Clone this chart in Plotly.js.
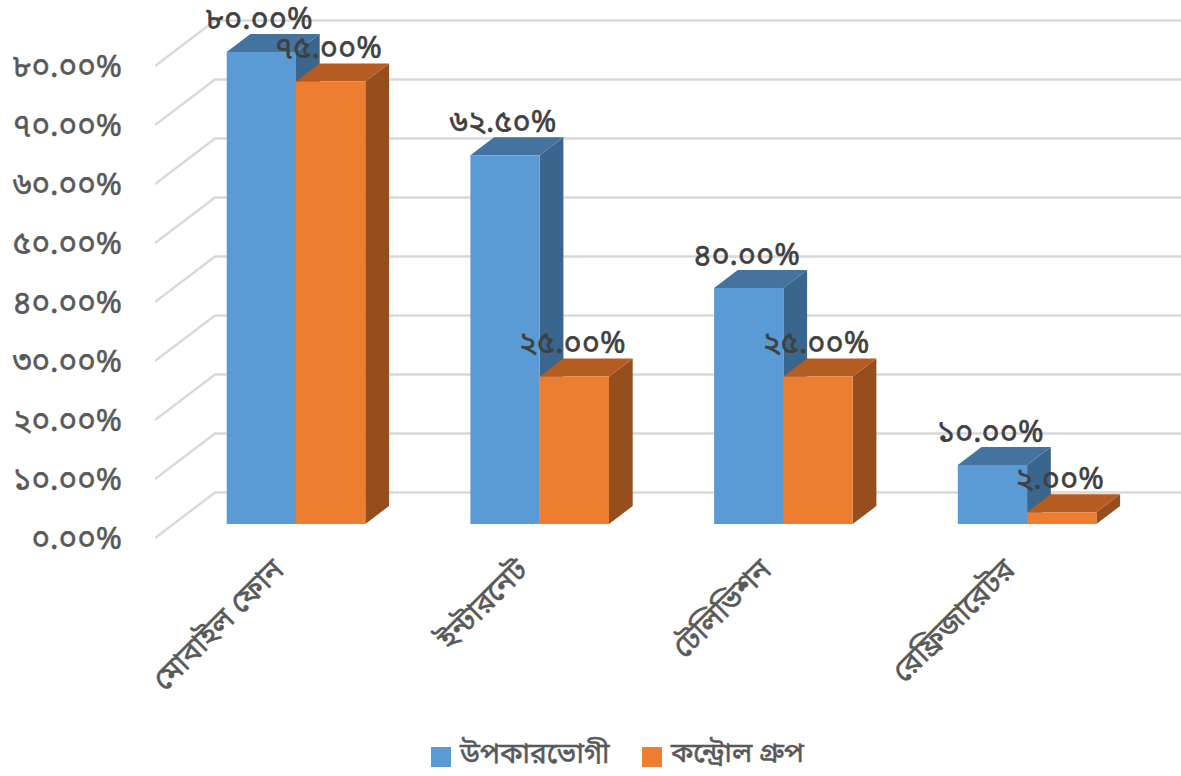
<!DOCTYPE html>
<html>
<head>
<meta charset="utf-8">
<script src="https://cdn.plot.ly/plotly-3.0.1.min.js"></script>
<style>
html,body{margin:0;padding:0;background:#fff}
#chart{width:1181px;height:776px}
/* Slightly heavier strokes for the Bengali text */
#chart .xtick text,#chart .ytick text,#chart .annotation text{stroke:#595959;stroke-width:.55px}
#chart .textpoint text{stroke:#404040;stroke-width:.6px}
</style>
</head>
<body>
<div id="chart"></div>
<script>
// Ownership of household devices: beneficiaries vs control group
const categories = ['মোবাইল ফোন', 'ইন্টারনেট', 'টেলিভিশন', 'রেফ্রিজারেটর'];
const beneficiaryName = 'উপকারভোগী';
const controlName = 'কন্ট্রোল গ্রুপ';
const beneficiaryValues = [80, 62.5, 40, 10];
const controlValues = [75, 25, 25, 2];
const beneficiaryLabels = ['৮০.০০%', '৬২.৫০%', '৪০.০০%', '১০.০০%'];
const controlLabels = ['৭৫.০০%', '২৫.০০%', '২৫.০০%', '২.০০%'];
const tickValues = [0, 10, 20, 30, 40, 50, 60, 70, 80];
const tickLabels = ['০.০০%', '১০.০০%', '২০.০০%', '৩০.০০%', '৪০.০০%', '৫০.০০%', '৬০.০০%', '৭০.০০%', '৮০.০০%'];

const FONT = 'Vrinda, "Noto Sans Bengali", "Lohit Bengali", "Noto Sans", "DejaVu Sans", sans-serif';

// Scale of the oblique projection, per pixel of the plot area
const pxPerPct = 5.9, pxPerCat = 243.7;
const plotLeft = 155, plotRight = 1181, plotBottom = 545, firstCat = 296, zeroPx = 538;
const yUnit = px => px / pxPerPct, xUnit = px => px / pxPerCat;

const barW = xUnit(69.3), depthX = xUnit(23.7), depthY = yUnit(18);
const floorFront = yUnit(14);
const wallX = xUnit(60), wallY = yUnit(45.5);

const xMin = xUnit(plotLeft - firstCat), xMax = xUnit(plotRight - firstCat);

const poly = (xs, ys, color, name) => ({
  type: 'scatter', mode: 'lines', x: xs, y: ys, fill: 'toself', fillcolor: color,
  line: {width: 0, color: color}, hoverinfo: 'skip', showlegend: false, name: name
});

// One cuboid: side face, top face, front face, painted back to front
function cuboid(x0, value, c) {
  const x1 = x0 + barW, b = floorFront, t = value + floorFront;
  return [
    poly([x1, x1 + depthX, x1 + depthX, x1, x1], [b, b + depthY, t + depthY, t, b], c.side),
    poly([x0, x1, x1 + depthX, x0 + depthX, x0], [t, t, t + depthY, t + depthY, t], c.top),
    poly([x0, x1, x1, x0, x0], [b, b, t, t, b], c.front)
  ];
}

const blue = {front: '#5B9BD5', top: '#44739F', side: '#3A658D'};
const orange = {front: '#ED7D31', top: '#B45C22', side: '#964F1C'};

// Wall and floor rules behind the bars
const gridX = [], gridY = [];
tickValues.forEach(v => {
  gridX.push(xMin, xMin + wallX, xMax, null);
  gridY.push(v, v + wallY, v + wallY, null);
});
const traces = [{
  type: 'scatter', mode: 'lines', x: gridX, y: gridY,
  line: {color: '#D9D9D9', width: 2.4}, hoverinfo: 'skip', showlegend: false
}];

categories.forEach((c, i) => {
  traces.push(...cuboid(i - barW, beneficiaryValues[i], blue));
  traces.push(...cuboid(i, controlValues[i], orange));
});

// Value labels above each bar
const labelLift = floorFront + yUnit(31);
const labelTrace = (offset, values, labels) => ({
  type: 'scatter', mode: 'text', cliponaxis: false,
  x: values.map((v, i) => i + offset - xUnit(2.2)), y: values.map(v => v + labelLift),
  text: labels, textposition: 'middle center',
  textfont: {family: FONT, size: 30.8, color: '#404040'},
  hoverinfo: 'skip', showlegend: false
});
traces.push(labelTrace(-barW / 2, beneficiaryValues, beneficiaryLabels));
traces.push(labelTrace(barW / 2, controlValues, controlLabels));

const paperX = px => (px - plotLeft) / (plotRight - plotLeft);
const paperY = px => (plotBottom - px) / plotBottom;

const layout = {
  width: 1181, height: 776, paper_bgcolor: '#fff', plot_bgcolor: '#fff',
  margin: {l: plotLeft, r: 0, t: 0, b: 776 - plotBottom},
  showlegend: false,
  xaxis: {
    range: [xMin, xMax], tickmode: 'array', tickvals: [0, 1, 2, 3], ticktext: categories,
    tickangle: -45, showgrid: false, zeroline: false, showline: false, ticks: '',
    ticklabelshift: -21,
    tickfont: {family: FONT, size: 30, color: '#595959'}
  },
  yaxis: {
    range: [yUnit(zeroPx - plotBottom), yUnit(zeroPx)],
    tickmode: 'array', tickvals: tickValues, ticktext: tickLabels,
    showgrid: false, zeroline: false, showline: false, ticks: '', ticklabelstandoff: 32,
    tickfont: {family: FONT, size: 31.5, color: '#595959'}
  },
  shapes: [
    {type: 'rect', xref: 'paper', yref: 'paper', x0: paperX(431), x1: paperX(451), y0: paperY(767), y1: paperY(747), fillcolor: blue.front, line: {width: 0}},
    {type: 'rect', xref: 'paper', yref: 'paper', x0: paperX(642), x1: paperX(662), y0: paperY(767), y1: paperY(747), fillcolor: orange.front, line: {width: 0}}
  ],
  annotations: [
    {xref: 'paper', yref: 'paper', x: paperX(457), y: paperY(755), text: beneficiaryName, showarrow: false, xanchor: 'left', yanchor: 'middle', font: {family: FONT, size: 28, color: '#595959'}},
    {xref: 'paper', yref: 'paper', x: paperX(668), y: paperY(755), text: controlName, showarrow: false, xanchor: 'left', yanchor: 'middle', font: {family: FONT, size: 27.7, color: '#595959'}}
  ]
};

Plotly.newPlot('chart', traces, layout, {displayModeBar: false, responsive: false});
</script>
</body>
</html>
